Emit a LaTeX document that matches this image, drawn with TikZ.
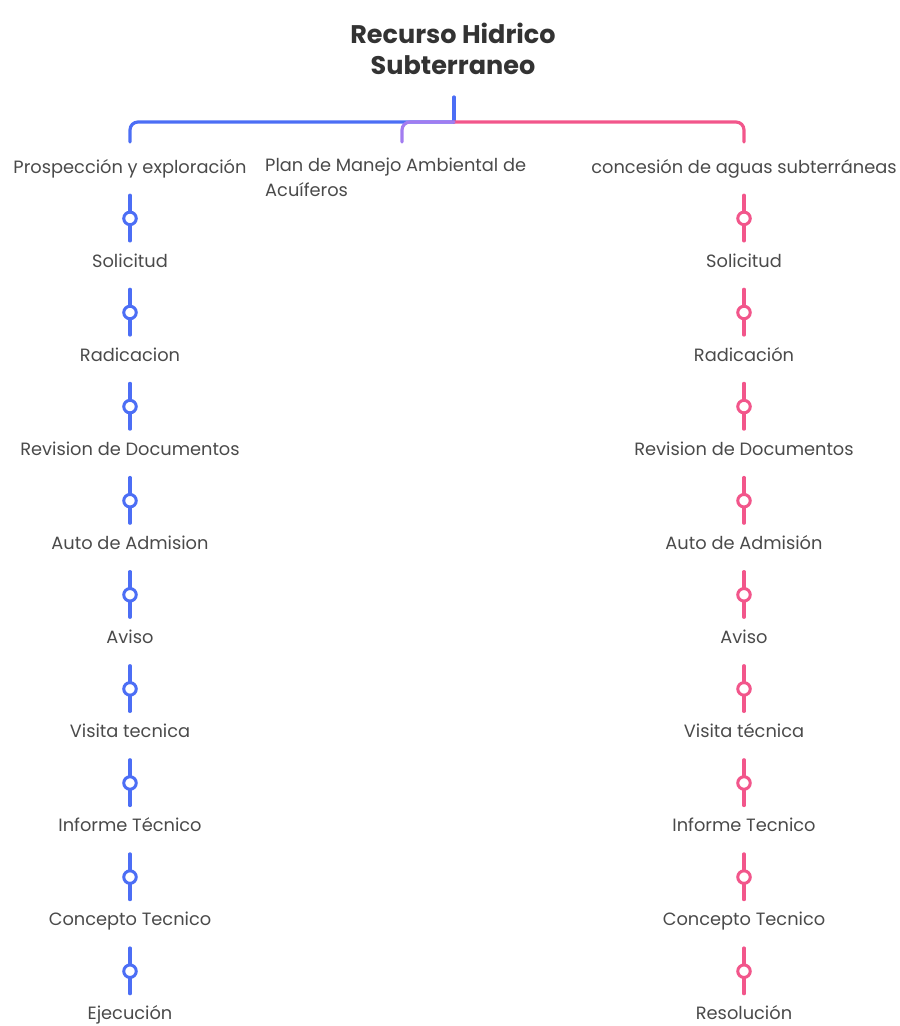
\documentclass[tikz,border=0pt]{standalone}
\usepackage{fontspec}
\setmainfont{Poppins}
\usetikzlibrary{positioning}
\definecolor{bluebr}{HTML}{4C6EF5}
\definecolor{pinkbr}{HTML}{F2568B}
\definecolor{purplebr}{HTML}{A27CF0}
\definecolor{ink}{HTML}{333333}
\definecolor{inklight}{HTML}{4A4A4A}
\tikzset{
  topic/.style={font=\bfseries\fontsize{25.5}{31}\selectfont, text=ink, align=center, inner sep=0pt},
  item/.style={font=\fontsize{17.8}{25}\selectfont, text=inklight, inner sep=0pt, text height=12pt, text depth=4pt},
  knob/.style={circle, fill=white, draw=#1, line width=3pt, minimum size=12.5pt, inner sep=0pt},
  branch/.style={draw=#1, line width=3.2pt, line cap=round, rounded corners=8pt},
  link/.style={draw=#1, line width=3.2pt, line cap=round, shorten <=18pt, shorten >=14pt}
}

\begin{document}
\begin{tikzpicture}[x=1pt, y=-1pt]
  \useasboundingbox (0,0) rectangle (900,1026);
  % title
  \node[topic] (root) at (453,49) {Recurso Hidrico\\Subterraneo};
  \coordinate (top) at (454,97);
  \coordinate (hub) at (454,122);
  \coordinate (pa) at (130,142);
  \coordinate (pb) at (402,142);
  \coordinate (pc) at (744,142);
  \draw[branch=bluebr] (top) -- (hub);
  \draw[branch=bluebr] (hub) -| (pa);
  \draw[branch=pinkbr] (hub) -| (pc);
  \draw[branch=purplebr] (hub) -| (pb);
  % first level
  \node[item] (ps0) at (130,169) {Prospección y exploración};
  \node[item, anchor=north west, align=left, text height=, text depth=] (plan) at (265,158) {Plan de Manejo Ambiental de\\Acuíferos};
  \node[item] (cs0) at (744,169) {concesión de aguas subterráneas};
  % left chain
  \foreach \t [count=\i, remember=\i as \j (initially 0)] in {Solicitud, Radicacion, Revision de Documentos, Auto de Admision, Aviso, Visita tecnica, Informe Técnico, Concepto Tecnico, Ejecución}{
    \node[item] (ps\i) at (130,169+94.1*\i) {\t};
    \draw[link=bluebr] (ps\j.south) -- node[knob=bluebr, pos=0.53] (pk\i) {} (ps\i.north);
  }
  % right chain
  \foreach \t [count=\i, remember=\i as \j (initially 0)] in {Solicitud, Radicación, Revision de Documentos, Auto de Admisión, Aviso, Visita técnica, Informe Tecnico, Concepto Tecnico, Resolución}{
    \node[item] (cs\i) at (744,169+94.1*\i) {\t};
    \draw[link=pinkbr] (cs\j.south) -- node[knob=pinkbr, pos=0.53] (ck\i) {} (cs\i.north);
  }
\end{tikzpicture}
\end{document}
